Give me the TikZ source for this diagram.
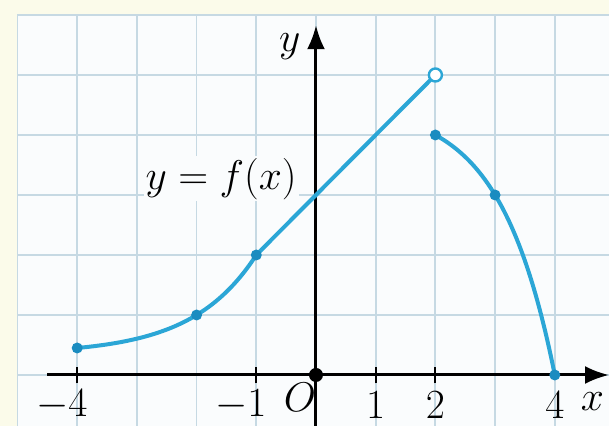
\documentclass[tikz,border=0pt]{standalone}
\usetikzlibrary{arrows.meta}
\definecolor{cream}{HTML}{FBFBEA}
\definecolor{paper}{HTML}{FAFCFD}
\definecolor{gridc}{HTML}{C6D9E3}
\definecolor{curve}{HTML}{2BA6D6}
\definecolor{dotc}{HTML}{1A8CC0}
\tikzset{
  axisline/.style={line width=1.5pt, black, -{Latex[length=12pt,width=9pt]}},
  graphline/.style={line width=2pt, curve, line cap=round, line join=round},
  dotpt/.style={circle, fill=dotc, inner sep=0pt, minimum size=5.5pt},
  opendot/.style={circle, draw=curve, fill=white, line width=1.2pt, inner sep=0pt, minimum size=6.5pt},
  ticklab/.style={font=\fontsize{20}{24}\selectfont, inner sep=0pt},
  tickmark/.style={line width=0.9pt, black}
}
\begin{document}
\begin{tikzpicture}[x=29.85pt, y=30pt]
\useasboundingbox (-5.293,-0.85) rectangle (4.908,6.25);
\fill[cream] (-5.293,-0.85) rectangle (4.908,6.25);
\fill[paper] (-5,-0.85) rectangle (4.908,6);
\foreach \i in {-5,...,4} \draw[gridc, line width=0.9pt] (\i,-0.85) -- (\i,6);
\foreach \j in {0,...,6} \draw[gridc, line width=0.9pt] (-5,\j) -- (4.908,\j);
% axes
\coordinate (xs) at (-4.5,0);
\coordinate (xe) at (4.908,0);
\coordinate (ys) at (0,-0.85);
\coordinate (ye) at (0,5.83);
\draw[axisline] (xs) -- (xe);
\draw[axisline] (ys) -- (ye);
\foreach \i in {-4,-1,1,2} \draw[tickmark] (\i,-0.14) -- (\i,0.14);
% graph
\draw[graphline] plot[domain=-4:-1, samples=40, smooth] (\x,{0.349+4.19*exp(0.931*\x)}) -- (2,5);
\draw[graphline] plot[domain=2:4, samples=40, smooth] (\x,{4.5-0.5*exp(1.0986*(\x-2))});
\node[dotpt] (p1) at (-4,0.45) {};
\node[dotpt] (p2) at (-2,1) {};
\node[dotpt] (p3) at (-1,2) {};
\node[opendot] (p4) at (2,5) {};
\node[dotpt] (p5) at (2,4) {};
\node[dotpt] (p6) at (3,3) {};
\node[dotpt] (p7) at (4,0) {};
\node[circle, fill=black, inner sep=0pt, minimum size=7pt] (o) at (0,0) {};
% labels
\node[ticklab] (ly) at (-0.44,5.47) {$y$};
\node[ticklab] (lx) at (4.63,-0.45) {$x$};
\node[ticklab] (lo) at (-0.27,-0.37) {$O$};
\node[ticklab] (lm4) at (-4.26,-0.5) {$-4$};
\node[ticklab] (lm1) at (-1.26,-0.5) {$-1$};
\node[ticklab] (l1) at (1,-0.5) {$1$};
\node[ticklab] (l2) at (2,-0.5) {$2$};
\node[ticklab] (l4) at (4,-0.5) {$4$};
\node[ticklab, fill=paper, inner sep=1pt] (lf) at (-1.59,3.27) {$y=f(x)$};
\end{tikzpicture}
\end{document}
